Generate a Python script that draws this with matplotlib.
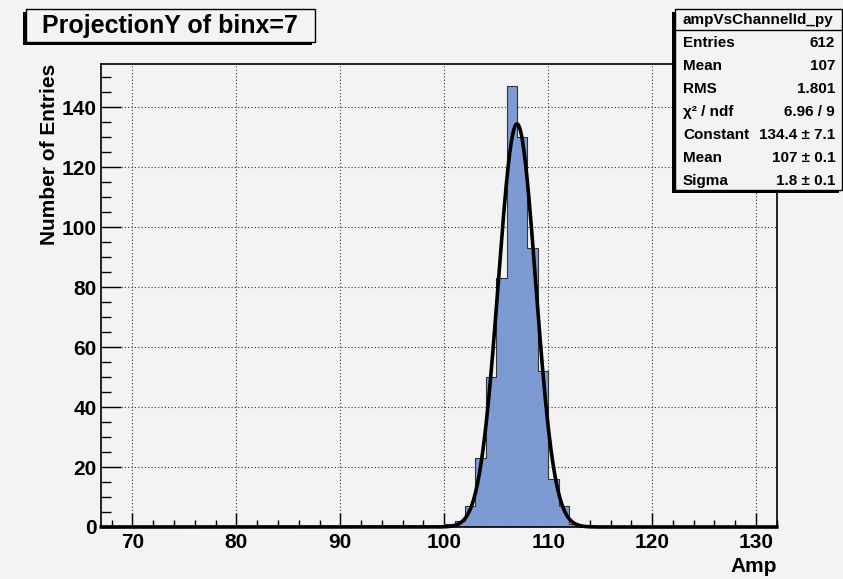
import numpy as np
import matplotlib.pyplot as plt
from matplotlib.patches import Rectangle
from matplotlib.ticker import MultipleLocator

plt.rcParams['font.family'] = ['Liberation Sans', 'DejaVu Sans']
plt.rcParams['font.weight'] = 'bold'

# histogram: 1-unit bins from 67 to 132, only bins 100..112 are filled
x_lo, x_hi = 67, 132
first_bin = 100
peak_counts = [1, 2, 7, 23, 50, 83, 147, 130, 93, 52, 16, 7, 1]

# gaussian fit result
fit_const, fit_mean, fit_sigma = 134.4, 107.0, 1.8

title = "ProjectionY of binx=7"
stats_name = "ampVsChannelId_py"
stats_labels = ["Entries", "Mean", "RMS", "\u03c7\u00b2 / ndf", "Constant", "Mean", "Sigma"]
stats_values = ["612", "107", "1.801", "6.96 / 9", "134.4 \u00b1 7.1", "107 \u00b1 0.1", "1.8 \u00b1 0.1"]

edges = np.arange(x_lo, x_hi + 1)
counts = np.zeros(len(edges) - 1)
i0 = first_bin - x_lo
counts[i0:i0 + len(peak_counts)] = peak_counts

W, H = 843, 579
bg = '#f3f3f3'
fig = plt.figure(figsize=(W / 100, H / 100), dpi=100, facecolor=bg)
ax = fig.add_axes([101.3 / W, 1 - 527 / H, 675.5 / W, 463 / H], facecolor=bg)

ax.stairs(counts, edges, fill=True, facecolor='#7d9ad2', edgecolor='none', zorder=2)
ax.stairs(counts, edges, color='#333333', linewidth=0.8, zorder=3)

xf = np.linspace(x_lo, x_hi, 800)
yf = fit_const * np.exp(-0.5 * ((xf - fit_mean) / fit_sigma) ** 2)
ax.plot(xf, yf, color='black', linewidth=2.6, zorder=4, clip_on=False)

ax.set_xlim(x_lo, x_hi)
ax.set_ylim(0, 1.05 * max(peak_counts))

ax.xaxis.set_major_locator(MultipleLocator(10))
ax.xaxis.set_minor_locator(MultipleLocator(2))
ax.yaxis.set_major_locator(MultipleLocator(20))
ax.yaxis.set_minor_locator(MultipleLocator(5))
ax.tick_params(axis='x', which='major', direction='in', length=10, width=1, pad=4, labelsize=15)
ax.tick_params(axis='x', which='minor', direction='in', length=5, width=1)
ax.tick_params(axis='y', which='major', direction='in', length=14.4, width=1, pad=3.5, labelsize=15)
ax.tick_params(axis='y', which='minor', direction='in', length=7.2, width=1)
for lab in ax.get_xticklabels() + ax.get_yticklabels():
    lab.set_fontweight('bold')

ax.grid(True, which='major', color='#333333', linestyle=(0, (1, 2)), linewidth=0.8)
ax.set_axisbelow(True)
for sp in ax.spines.values():
    sp.set_linewidth(1.2)

ax.set_xlabel("Amp", fontsize=15, fontweight='bold', loc='right', labelpad=4)
ax.set_ylabel("Number of Entries", fontsize=15, fontweight='bold', loc='top', labelpad=2)


def box(x0, y0, x1, y1, shadow=3):
    # pave with a shadow on the left and bottom, coordinates in pixels from top-left
    w, h = (x1 - x0) / W, (y1 - y0) / H
    fig.patches.append(Rectangle(((x0 - shadow) / W, (H - y1 - shadow) / H), w, h,
                                 transform=fig.transFigure, facecolor='black',
                                 edgecolor='none', zorder=5))
    fig.patches.append(Rectangle((x0 / W, (H - y1) / H), w, h,
                                 transform=fig.transFigure, facecolor=bg,
                                 edgecolor='black', linewidth=1, zorder=6))


box(26, 9, 315, 42)
fig.text(170 / W, 1 - 26 / H, title, fontsize=18, fontweight='bold',
         ha='center', va='center', zorder=7)

# stats box
box(675, 9, 842, 190)
fig.add_artist(plt.Line2D([675 / W, 842 / W], [1 - 30 / H, 1 - 30 / H],
                          color='black', linewidth=1, zorder=7))
fig.text(758 / W, 1 - 20 / H, stats_name, fontsize=11, fontweight='bold',
         ha='center', va='center', zorder=7)
for k, (lab, val) in enumerate(zip(stats_labels, stats_values)):
    yy = 1 - (43 + 23 * k) / H
    fig.text(683 / W, yy, lab, fontsize=11, fontweight='bold', ha='left', va='center', zorder=7)
    fig.text(835 / W, yy, val, fontsize=11, fontweight='bold', ha='right', va='center', zorder=7)

fig.savefig('out.png', dpi=100, facecolor=bg)
